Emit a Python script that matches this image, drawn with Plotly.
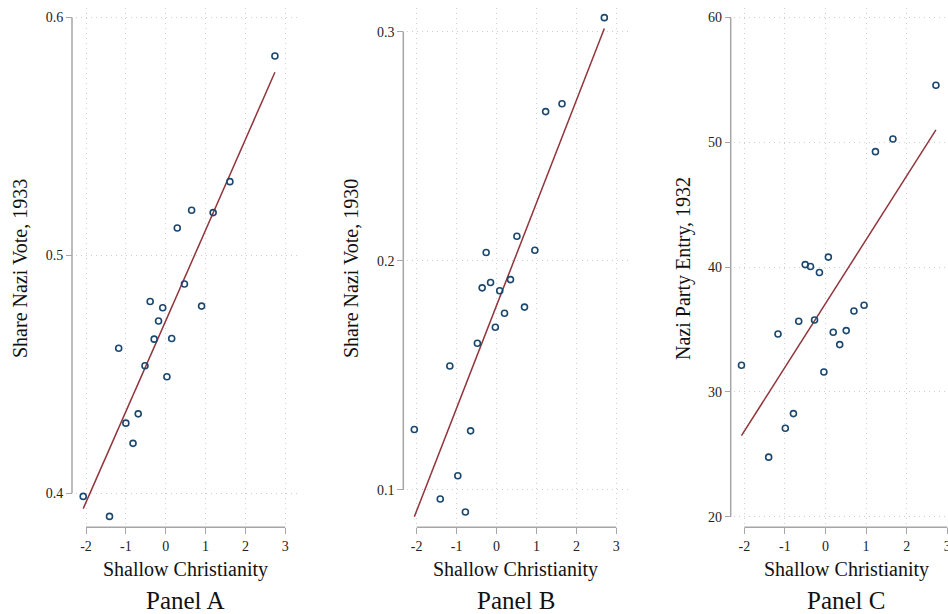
import numpy as np
import plotly.graph_objects as go

# ---------------- data ----------------
panels = ["Panel A", "Panel B", "Panel C"]
y_titles = ["Share Nazi Vote, 1933", "Share Nazi Vote, 1930", "Nazi Party Entry, 1932"]
x_title = "Shallow Christianity"

x_ticks = [-2, -1, 0, 1, 2, 3]
y_ticks_a = [0.4, 0.5, 0.6]
y_ticks_b = [0.1, 0.2, 0.3]
y_ticks_c = [20, 30, 40, 50, 60]

# Panel A: Share Nazi vote 1933
xa = [2.74, 1.61, 0.65, 0.29, 1.19, 0.47, -0.39, -0.075, 0.90, -0.18,
      -0.29, 0.15, -1.18, -0.52, 0.03, -0.69, -1.00, -0.82, -2.07, -1.41]
ya = [0.5838, 0.531, 0.519, 0.5115, 0.518, 0.488, 0.4806, 0.478, 0.4787, 0.4724,
      0.4648, 0.4651, 0.461, 0.4536, 0.449, 0.4334, 0.4295, 0.421, 0.3987, 0.3903]

# Panel B: Share Nazi vote 1930
xb = [2.70, 1.64, 1.23, 0.51, -0.26, 0.96, 0.35, -0.15, -0.36, 0.08,
      0.70, 0.20, -0.03, -0.48, -1.17, -2.06, -0.65, -0.97, -1.41, -0.78]
yb = [0.3061, 0.2685, 0.2651, 0.2107, 0.2036, 0.2046, 0.1918, 0.1905, 0.1882, 0.1869,
      0.1798, 0.1771, 0.171, 0.164, 0.1541, 0.1264, 0.1258, 0.1062, 0.0961, 0.0904]

# Panel C: Nazi party entry 1932
xc = [2.72, 1.66, 1.23, 0.07, -0.50, -0.37, -0.15, 0.95, 0.70, -0.66,
      -0.27, -1.17, 0.19, 0.51, 0.35, -2.07, -0.04, -0.79, -0.99, -1.40]
yc = [54.57, 50.26, 49.25, 40.8, 40.2, 40.05, 39.57, 36.94, 36.48, 35.66,
      35.76, 34.64, 34.78, 34.91, 33.79, 32.14, 31.6, 28.26, 27.09, 24.77]

# fitted lines (intercept, slope)
fit_intercept = [0.4725, 0.1805, 37.08]
fit_slope = [0.03813, 0.04476, 5.115]

# ---------------- styling / layout ----------------
W, H = 948, 614
FONT = "Liberation Serif, Times New Roman, serif"
NAVY = "#1a476f"
MAROON = "#90353b"
AXIS = "#a6a6a6"
GRID = "#cfcfcf"


def px(p):
    return p / W


def py(p):
    return 1 - p / H


xs = [xa, xb, xc]
ys = [ya, yb, yc]
yticks = [y_ticks_a, y_ticks_b, y_ticks_c]
x_dom_px = [(76, 298), (407, 628), (734, 948)]
x_ranges = [[-2.251, 3.319], [-2.243, 3.293], [-2.254, 3.017]]
y_ranges = [[0.3871, 0.604], [0.08516, 0.3103], [19.415, 60.76]]
yaxis_px = [72, 403.3, 730.7]
ytitle_px = [20, 351, 683]
center_px = [185, 515.5, 846]
y_dom = [py(524), py(8)]
xaxis_pos = py(527.3)

fig = go.Figure()
shapes = []
annotations = []
layout = {}

for i in range(3):
    sfx = "" if i == 0 else str(i + 1)
    xr = "x" + sfx
    yr = "y" + sfx
    x = np.array(xs[i])
    y = np.array(ys[i])

    # fitted line
    xl = np.array([x.min(), x.max()])
    yl = fit_intercept[i] + fit_slope[i] * xl
    fig.add_trace(go.Scatter(x=xl, y=yl, mode="lines", xaxis=xr, yaxis=yr,
                             line=dict(color=MAROON, width=1.5),
                             showlegend=False, hoverinfo="skip"))
    # binned points
    fig.add_trace(go.Scatter(x=x, y=y, mode="markers", xaxis=xr, yaxis=yr,
                             marker=dict(symbol="circle-open", size=6,
                                         color=NAVY, line=dict(width=1.6, color=NAVY)),
                             showlegend=False))

    layout["xaxis" + sfx] = dict(
        domain=[px(x_dom_px[i][0]), px(x_dom_px[i][1])],
        range=x_ranges[i], anchor="free", position=xaxis_pos,
        tickmode="array", tickvals=x_ticks, ticktext=[str(t) for t in x_ticks],
        ticks="outside", ticklen=6, tickwidth=1.3, tickcolor=AXIS,
        ticklabeloverflow="allow",
        showline=False, zeroline=False,
        showgrid=True, gridcolor=GRID, gridwidth=1, griddash="1px,4px",
        tickfont=dict(family=FONT, size=14, color="#222"),
    )
    layout["yaxis" + sfx] = dict(
        domain=y_dom, range=y_ranges[i], anchor="free", position=px(yaxis_px[i]),
        tickmode="array", tickvals=yticks[i], ticktext=[str(t) for t in yticks[i]],
        ticks="outside", ticklen=6, tickwidth=1.3, tickcolor=AXIS,
        ticklabeloverflow="allow",
        showline=False, zeroline=False,
        showgrid=True, gridcolor=GRID, gridwidth=1, griddash="1px,4px",
        tickfont=dict(family=FONT, size=14, color="#222"),
    )

    # Stata-style axis lines covering the tick range only
    shapes.append(dict(type="line", xref="paper", yref=yr,
                       x0=px(yaxis_px[i]), x1=px(yaxis_px[i]),
                       y0=yticks[i][0], y1=yticks[i][-1],
                       line=dict(color=AXIS, width=1.5), layer="above"))
    shapes.append(dict(type="line", xref=xr, yref="paper",
                       x0=x_ticks[0], x1=x_ticks[-1], y0=xaxis_pos, y1=xaxis_pos,
                       line=dict(color=AXIS, width=1.5), layer="above"))

    annotations.append(dict(text=x_title, xref="paper", yref="paper",
                            x=px(center_px[i]), y=py(569), xanchor="center", yanchor="middle",
                            showarrow=False, font=dict(family=FONT, size=20, color="#111")))
    annotations.append(dict(text=panels[i], xref="paper", yref="paper",
                            x=px(center_px[i]), y=py(600.5), xanchor="center", yanchor="middle",
                            showarrow=False, borderpad=0,
                            font=dict(family=FONT, size=25, color="#111")))
    annotations.append(dict(text=y_titles[i], xref="paper", yref="paper",
                            x=px(ytitle_px[i]), y=py(269), xanchor="center", yanchor="middle",
                            textangle=-90, showarrow=False,
                            font=dict(family=FONT, size=20, color="#111")))

fig.update_layout(
    width=W, height=H,
    margin=dict(l=0, r=0, t=0, b=0),
    paper_bgcolor="white", plot_bgcolor="white",
    template="none",
    shapes=shapes, annotations=annotations,
    **layout,
)

fig.write_html("out.html")
